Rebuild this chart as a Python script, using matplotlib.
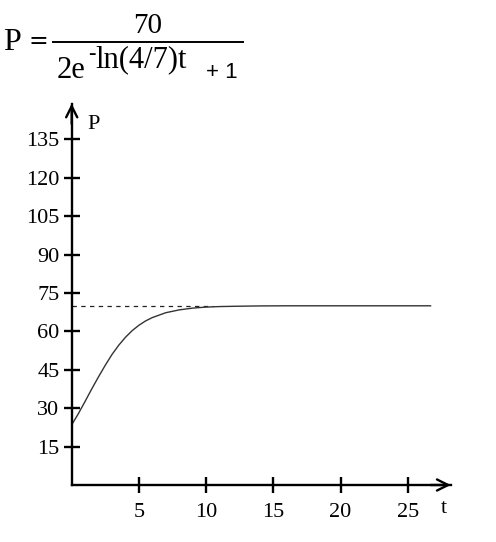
import matplotlib
matplotlib.use("Agg")
import matplotlib.pyplot as plt

# values
t_vals = [0, 0.5, 1, 1.5, 2, 2.5, 3, 3.5, 4, 4.5, 5, 5.5, 6, 7, 8, 9, 10, 11, 12, 14, 16, 20, 26.7]
p_vals = [23.5, 27.9, 32.7, 37.6, 42.3, 46.8, 51.0, 54.6, 57.7, 60.3, 62.4, 64.1, 65.4, 67.3, 68.4, 69.1, 69.5, 69.7, 69.8, 69.95, 70, 70, 70]
asymptote = 70
asym_end = 10.5
x_ticks = [5, 10, 15, 20, 25]
y_ticks = [15, 30, 45, 60, 75, 90, 105, 120, 135]
x_max = 28.2
y_max = 149

W, H = 496, 542
fig = plt.figure(figsize=(W / 100, H / 100), dpi=100)

# axes placed so the data scale matches the reference pixels
x0, y0 = 71.7, 485.0
px_t, px_p = 13.44, 2.56
ax = fig.add_axes([x0 / W, (H - y0) / H, x_max * px_t / W, y_max * px_p / H])
ax.set_xlim(0, x_max)
ax.set_ylim(0, y_max)

serif = "Liberation Serif"

ax.plot([0, asym_end], [asymptote, asymptote], color="#222222", lw=0.9,
        dashes=(3.5, 3.5))
ax.plot(t_vals, p_vals, color="#333333", lw=1.0)

for s in ["top", "right"]:
    ax.spines[s].set_visible(False)
for s in ["left", "bottom"]:
    ax.spines[s].set_linewidth(1.7)

# arrow heads on the axes
ax.annotate("", xy=(x_max, 0), xytext=(x_max - 1.5, 0), annotation_clip=False,
            arrowprops=dict(arrowstyle="->", lw=1.7, mutation_scale=20, shrinkA=0, shrinkB=0))
ax.annotate("", xy=(0, y_max), xytext=(0, y_max - 8), annotation_clip=False,
            arrowprops=dict(arrowstyle="->", lw=1.7, mutation_scale=20, shrinkA=0, shrinkB=0))

ax.set_xticks(x_ticks)
ax.set_yticks(y_ticks)
ax.tick_params(direction="inout", length=11.5, width=1.7, labelsize=16, colors="black")
ax.tick_params(axis="x", pad=7)
ax.tick_params(axis="y", pad=3)
for lab in ax.get_xticklabels() + ax.get_yticklabels():
    lab.set_fontfamily(serif)

ax.text(1.2, y_max - 10, "P", fontsize=16, family=serif, ha="left", va="baseline")
ax.text(27.5, -5.5, "t", fontsize=16, family=serif, ha="left", va="top")

# formula at top
def fy(py):
    return 1 - py / H

fig.text(3 / W, fy(50), "P", fontsize=23, family=serif, va="baseline")
fig.text(38 / W, fy(48), "=", fontsize=17, family="DejaVu Sans", ha="center", va="baseline")
fig.add_artist(plt.Line2D([53 / W, 243 / W], [fy(42), fy(42)], color="black", lw=1.4))
fig.text(148 / W, fy(33), "70", fontsize=21, family=serif, ha="center", va="baseline")
fig.text(57 / W, fy(78), "2e", fontsize=22, family=serif, va="baseline")
fig.text(88 / W, fy(59), "-", fontsize=16, family=serif, va="baseline")
fig.text(95 / W, fy(67), "ln(4/7)t", fontsize=22, family=serif, va="baseline")
fig.text(206 / W, fy(78), "+ 1", fontsize=16, family="Liberation Sans", va="baseline")

fig.savefig("out.png", dpi=100)
